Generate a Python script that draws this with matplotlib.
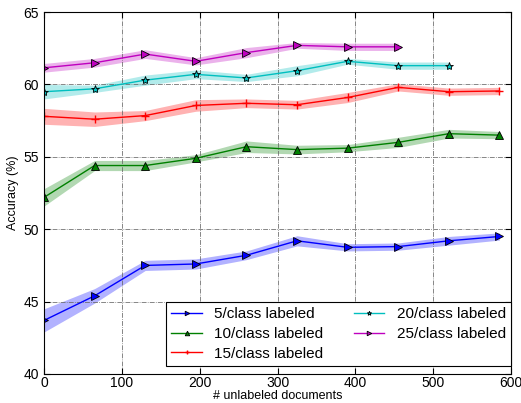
import numpy as np
import matplotlib
matplotlib.use("Agg")
import matplotlib.pyplot as plt

plt.rcParams['font.family'] = ['Liberation Sans', 'DejaVu Sans']

x = [0, 65, 130, 195, 260, 325, 390, 455, 520, 585]

acc5 = [43.7, 45.4, 47.5, 47.6, 48.2, 49.2, 48.75, 48.8, 49.2, 49.5]
std5 = [0.8, 0.5, 0.35, 0.35, 0.3, 0.35, 0.25, 0.25, 0.3, 0.25]
acc10 = [52.2, 54.4, 54.4, 54.9, 55.7, 55.5, 55.6, 56.0, 56.6, 56.5]
std10 = [0.6, 0.35, 0.35, 0.25, 0.4, 0.3, 0.25, 0.35, 0.3, 0.25]
acc15 = [57.8, 57.6, 57.85, 58.55, 58.7, 58.6, 59.1, 59.8, 59.5, 59.55]
std15 = [0.55, 0.5, 0.35, 0.4, 0.3, 0.3, 0.35, 0.25, 0.25, 0.25]
acc20 = [59.5, 59.7, 60.3, 60.7, 60.45, 60.95, 61.6, 61.3, 61.3]
std20 = [0.5, 0.25, 0.35, 0.3, 0.25, 0.35, 0.2, 0.25, 0.25]
acc25 = [61.15, 61.5, 62.1, 61.6, 62.2, 62.7, 62.6, 62.6]
std25 = [0.3, 0.3, 0.3, 0.25, 0.35, 0.2, 0.25, 0.25]

series = [
    (acc5, std5, 'b', '>', '5/class labeled'),
    (acc10, std10, 'g', '^', '10/class labeled'),
    (acc15, std15, 'r', '+', '15/class labeled'),
    (acc20, std20, 'c', '*', '20/class labeled'),
    (acc25, std25, 'm', '>', '25/class labeled'),
]

fig = plt.figure(figsize=(5.21, 4.03), dpi=100)
ax = fig.add_axes([0.0845, 0.072, 0.8965, 0.898])

for acc, std, col, mk, lab in series:
    xs = np.array(x[:len(acc)])
    a = np.array(acc)
    s = np.array(std)
    ax.fill_between(xs, a - s, a + s, color=col, alpha=0.3, linewidth=0)
    mew = 1.0 if mk == '+' else 0.6
    mec = col if mk == '+' else 'k'
    ax.plot(xs, a, color=col, marker=mk, markersize=6, linewidth=1,
            markeredgecolor=mec, markeredgewidth=mew, label=lab)

ax.set_xlim(0, 600)
ax.set_ylim(40, 65)
ax.set_xticks(range(0, 601, 100))
ax.set_yticks(range(40, 66, 5))
ax.grid(True, linestyle='-.', color='0.4', linewidth=0.55)
ax.tick_params(labelsize=10, direction='in', length=4, top=True, right=True)
ax.tick_params(axis='x', pad=1.5)
ax.set_xlabel('# unlabeled documents', fontsize=9, va='center')
ax.xaxis.set_label_coords(0.5, -0.062)
ax.set_ylabel('Accuracy (%)', fontsize=9, labelpad=3)

leg = ax.legend(loc='lower right', bbox_to_anchor=(1.0, 0.022), ncol=2,
                fontsize=11, numpoints=1, markerscale=0.55, fancybox=False,
                framealpha=1, borderaxespad=0, borderpad=0.35,
                handlelength=2.0, labelspacing=0.38, columnspacing=2.0,
                handletextpad=0.8)
leg.get_frame().set_edgecolor('k')
leg.get_frame().set_linewidth(0.8)

fig.savefig('out.png', dpi=100)
